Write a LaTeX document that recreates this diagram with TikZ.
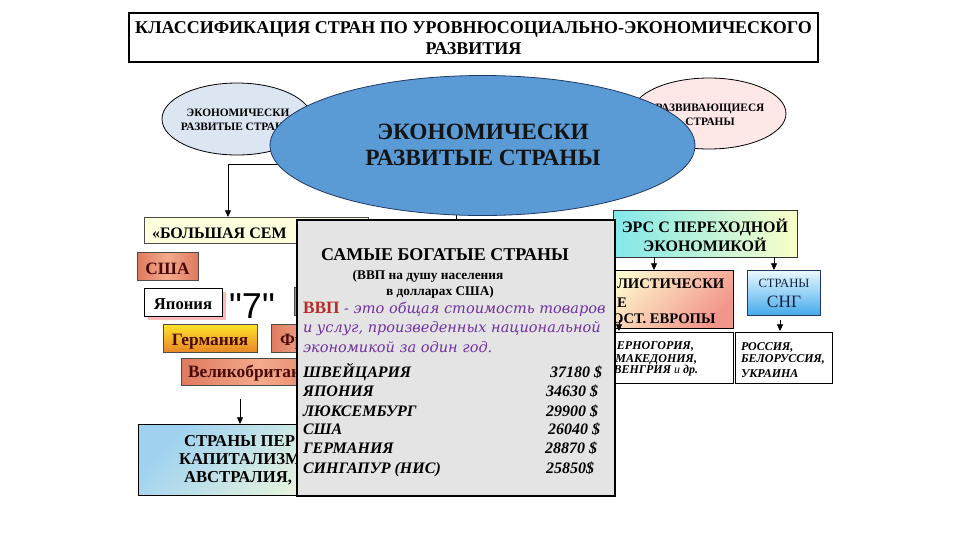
\documentclass[tikz,border=0pt]{standalone}
\usepackage{fontspec}
\setmainfont{Liberation Serif}
\newfontfamily\sansf{Liberation Sans}
\newfontfamily\dvserif{DejaVu Serif}
\usetikzlibrary{shapes.geometric,arrows.meta}
\definecolor{bigblue}{RGB}{91,155,213}
\definecolor{navy}{RGB}{31,56,100}
\definecolor{lblue}{RGB}{220,230,242}
\definecolor{lpink}{RGB}{253,231,231}
\definecolor{lyel}{RGB}{255,255,221}
\definecolor{salmon1}{RGB}{244,170,140}
\definecolor{salmon2}{RGB}{222,122,95}
\definecolor{brownred}{RGB}{75,10,10}
\definecolor{gold1}{RGB}{255,228,40}
\definecolor{gold2}{RGB}{230,135,40}
\definecolor{greybox}{RGB}{228,228,228}
\definecolor{vvpred}{RGB}{185,45,40}
\definecolor{purp}{RGB}{112,48,160}
\definecolor{cyan1}{RGB}{130,232,235}
\definecolor{yel2}{RGB}{250,255,200}
\definecolor{socpink}{RGB}{242,150,140}
\definecolor{socyel}{RGB}{255,255,210}
\definecolor{sngblue}{RGB}{70,170,235}
\definecolor{sngtop}{RGB}{235,250,255}
\definecolor{itagrey}{RGB}{130,150,185}
\definecolor{persblue}{RGB}{160,210,240}
\definecolor{persyel}{RGB}{255,255,215}
\begin{document}
\begin{tikzpicture}[x=0.75pt,y=-0.75pt,
  box/.style={rectangle,inner sep=0pt,outer sep=0pt,draw=#1,line width=0.6pt},
  box/.default=black,
  txt/.style={inner sep=0pt,outer sep=0pt},
  arr/.style={-{Triangle[length=5pt,width=4.5pt]},line width=0.6pt},
  conn/.style={line width=0.6pt},
  sz/.style 2 args={minimum width=#1*0.75pt,minimum height=#2*0.75pt},
  salm/.style={box=black!70,left color=salmon2,right color=salmon2,middle color=salmon1},
  ctext/.style={txt,text=brownred,font=\fontsize{13}{15}\selectfont\bfseries},
  vvplist/.style={txt,font=\fontsize{12}{14}\selectfont\bfseries\itshape},
  smallit/.style={txt,font=\fontsize{9}{11}\selectfont\bfseries\itshape},
  perst/.style={txt,anchor=base west,font=\fontsize{12.5}{13}\selectfont\bfseries},
  soct/.style={txt,font=\fontsize{11}{13}\selectfont\bfseries},
  purpit/.style={txt,anchor=base west,text=purp,font=\dvserif\itshape\fontsize{10.9}{13}\selectfont},
]
\fill[white] (0,0) rectangle (960,540);
\useasboundingbox (0,0) rectangle (960,540);

% title
\node[box,line width=1.5pt,fill=white,sz={689}{49}] (title) at (473.5,37.5) {};
\node[txt,align=center,font=\fontsize{13.5}{15.75}\selectfont\bfseries] (titlet) at (473.5,38.5)
  {КЛАССИФИКАЦИЯ СТРАН ПО УРОВНЮСОЦИАЛЬНО-ЭКОНОМИЧЕСКОГО\\РАЗВИТИЯ};

% small ellipses
\node[ellipse,draw,line width=0.6pt,fill=lblue,sz={150}{72},inner sep=0pt] (sdev) at (237,119) {};
\node[txt,align=center,font=\fontsize{8.5}{10.5}\selectfont\bfseries] (sdevt) at (238,120)
  {ЭКОНОМИЧЕСКИ\\РАЗВИТЫЕ СТРАНЫ};
\node[ellipse,draw,line width=0.6pt,fill=lpink,sz={154}{71},inner sep=0pt] (sdvl) at (709,113.5) {};
\node[txt,align=center,font=\fontsize{8.5}{10.5}\selectfont\bfseries] (sdvlt) at (710,114.5)
  {РАЗВИВАЮЩИЕСЯ\\СТРАНЫ};

% connectors from hub
\coordinate (hub) at (456,164);
\coordinate (g7in) at (228,217);
\coordinate (richtop) at (456,220);
\draw[arr] (hub) -| (g7in);
\draw[conn] (hub) -- (richtop);

% big ellipse
\node[ellipse,draw=navy,line width=0.6pt,fill=bigblue,sz={425}{140},inner sep=0pt] (big) at (482.5,145.5) {};
\node[txt,align=center,text=black!92,font=\fontsize{17.5}{19.5}\selectfont\bfseries] (bigt) at (483,145)
  {ЭКОНОМИЧЕСКИ\\РАЗВИТЫЕ СТРАНЫ};

% G7 block
\node[box=black!70,fill=lyel,sz={224}{26}] (g7) at (256,230) {};
\node[txt,anchor=base west,font=\fontsize{12}{14}\selectfont\bfseries] (g7t) at (152,238) {«БОЛЬШАЯ СЕМ};

\node[salm,sz={61}{28}] (usa) at (167.5,266) {};
\node[ctext,anchor=base] (usat) at (167.5,274) {США};

\fill[red!35,opacity=0.8] (148,292) rectangle (226,320);
\node[box,fill=white,sz={78}{28}] (jpn) at (183,302) {};
\node[txt,anchor=base,font=\fontsize{12.5}{14}\selectfont\bfseries] (jpnt) at (183,309) {Япония};

\node[txt,anchor=base,font=\sansf\fontsize{27}{30}\selectfont] (seven) at (252,318) {"7"};

\node[box=black!70,fill=itagrey,sz={66}{28}] (ita) at (327,301) {};

\node[box=black!70,top color=gold1,bottom color=gold2,sz={94}{28}] (ger) at (210,338) {};
\node[ctext,anchor=base] (gert) at (210,345) {Германия};

\node[salm,sz={79}{28}] (fra) at (310.5,338) {};
\node[ctext,anchor=base west] (frat) at (280,345) {Фр};

\node[salm,sz={159}{27}] (gbr) at (260.5,371.5) {};
\node[ctext,anchor=base west] (gbrt) at (188,377) {Великобритан};

\coordinate (pa) at (240,399);
\coordinate (pb) at (240,424);
\draw[arr] (pa) -- (pb);

\node[box,top color=persblue,bottom color=persyel,shading angle=45,sz={262}{71}] (pers) at (269,459.5) {};
\node[perst] (pers1) at (184,446) {СТРАНЫ ПЕР};
\node[perst] (pers2) at (179,464) {КАПИТАЛИЗМ};
\node[perst] (pers3) at (184,482) {АВСТРАЛИЯ,};

% right side
\node[box=black!80,left color=cyan1,right color=yel2,sz={184}{47}] (ers) at (705,233.5) {};
\node[txt,anchor=base,font=\fontsize{12}{14}\selectfont\bfseries] (ers1) at (705,232) {ЭРС С ПЕРЕХОДНОЙ};
\node[txt,anchor=base,font=\fontsize{12}{14}\selectfont\bfseries] (ers2) at (705,251) {ЭКОНОМИКОЙ};

\node[box,top color=socyel,bottom color=socpink,shading angle=45,sz={143}{58}] (soc) at (661.5,299) {};
\node[soct,anchor=base west] (soc1) at (617,288) {ЛИСТИЧЕСКИ};
\node[soct,anchor=base west] (soc2) at (617,307) {Е};
\node[soct,anchor=base west] (soc3) at (612,323) {ОСТ. ЕВРОПЫ};

\node[box=navy,top color=sngtop,bottom color=sngblue,sz={73}{45}] (sng) at (783.5,292.5) {};
\node[txt,anchor=base,text=navy!60!black,font=\fontsize{9.5}{11}\selectfont] (sng1) at (784,287) {СТРАНЫ};
\node[txt,anchor=base,text=navy!60!black,font=\fontsize{13}{14}\selectfont] (sng2) at (784,307) {СНГ};

\node[box,fill=white,sz={143}{51}] (chern) at (661.5,357.5) {};
\node[smallit,anchor=base east] (ch1) at (694,349) {ЕРНОГОРИЯ,};
\node[smallit,anchor=base east] (ch2) at (697,362) {МАКЕДОНИЯ,};
\node[smallit,anchor=base east] (ch3) at (698,373) {ВЕНГРИЯ \textit{\mdseries и} др.};

\node[box,fill=white,sz={97}{51}] (rus) at (783.5,357.5) {};
\node[smallit,anchor=base west] (ru1) at (741,350) {РОССИЯ,};
\node[smallit,anchor=base west] (ru2) at (741,362) {БЕЛОРУССИЯ,};
\node[smallit,anchor=base west] (ru3) at (741,377) {УКРАИНА};

\coordinate (e1) at (654,257);
\coordinate (e1b) at (654,270);
\coordinate (e2) at (774,257);
\coordinate (e2b) at (774,270);
\draw[arr] (e1) -- (e1b);
\draw[arr] (e2) -- (e2b);
\coordinate (s1) at (780,320);
\coordinate (s1b) at (780,331);
\draw[arr] (s1) -- (s1b);
\coordinate (c1) at (619,320);
\coordinate (c1b) at (619,331);
\draw[arr] (c1) -- (c1b);

% richest countries box
\node[box,line width=1.2pt,fill=greybox,sz={318}{276}] (rich) at (456,358) {};
\node[txt,anchor=base,font=\fontsize{13.5}{15}\selectfont\bfseries] (r0) at (445,260) {САМЫЕ БОГАТЫЕ СТРАНЫ};
\node[txt,anchor=base,font=\fontsize{10}{11}\selectfont\bfseries] (r1) at (428,279) {(ВВП на душу населения};
\node[txt,anchor=base,font=\fontsize{10}{11}\selectfont\bfseries] (r2) at (440,295) {в долларах США)};
\node[txt,anchor=base west] (r3) at (303,313)
  {\textcolor{vvpred}{\fontsize{13}{14}\selectfont\bfseries ВВП}\textcolor{purp}{\dvserif\itshape\fontsize{10.9}{13}\selectfont\ - это общая стоимость товаров}};
\node[purpit] (r4) at (303,332) {и услуг, произведенных национальной};
\node[purpit] (r5) at (303,352) {экономикой за один год.};
\node[vvplist,anchor=base west] (l1) at (303,377) {ШВЕЙЦАРИЯ};
\node[vvplist,anchor=base west] (l2) at (303,396) {ЯПОНИЯ};
\node[vvplist,anchor=base west] (l3) at (303,416) {ЛЮКСЕМБУРГ};
\node[vvplist,anchor=base west] (l4) at (303,434) {США};
\node[vvplist,anchor=base west] (l5) at (303,453) {ГЕРМАНИЯ};
\node[vvplist,anchor=base west] (l6) at (303,473) {СИНГАПУР (НИС)};
\node[vvplist,anchor=base east] (n1) at (602,377) {37180 \$};
\node[vvplist,anchor=base east] (n2) at (598,396) {34630 \$};
\node[vvplist,anchor=base east] (n3) at (598,416) {29900 \$};
\node[vvplist,anchor=base east] (n4) at (600,434) {26040 \$};
\node[vvplist,anchor=base east] (n5) at (597,453) {28870 \$};
\node[vvplist,anchor=base east] (n6) at (594,473) {25850\$};
\end{tikzpicture}
\end{document}
